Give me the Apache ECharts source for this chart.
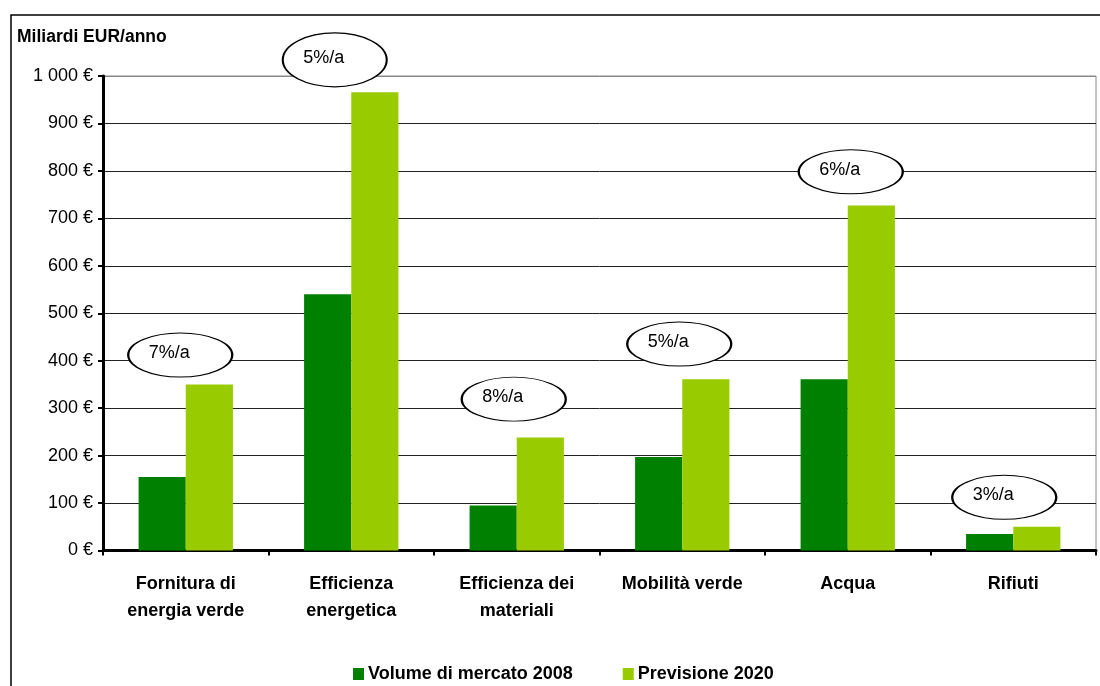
<!DOCTYPE html>
<html>
<head>
<meta charset="utf-8">
<script src="https://cdn.jsdelivr.net/npm/echarts@6/dist/echarts.min.js"></script>
<style>
html,body{margin:0;padding:0;background:#fff;}
#c{width:1100px;height:686px;}
</style>
</head>
<body>
<div id="c"></div>
<script>
const categories = ["Fornitura di\nenergia verde", "Efficienza\nenergetica", "Efficienza dei\nmateriali", "Mobilità verde", "Acqua", "Rifiuti"];
const volume2008 = [155, 540, 95, 197, 361, 35];
const previsione2020 = [350, 966, 238, 361, 727, 50];
const growthLabels = ["7%/a", "5%/a", "8%/a", "5%/a", "6%/a", "3%/a"];
const growthLabelY = [412, 1034, 319, 435, 798, 112];
const yTicks = [0, 100, 200, 300, 400, 500, 600, 700, 800, 900, 1000];

const FONT = "'Liberation Sans', Arial, sans-serif";
const chart = echarts.init(document.getElementById('c'));

const ellipseOffsets = [-5.5, -16.5, -3, -3, 3, -9];
const ellipseSizes = [[104, 44], [104, 54], [104, 44], [104, 44], [104, 44], [104, 44]];

const option = {
  animation: false,
  backgroundColor: '#fff',
  textStyle: { fontFamily: FONT },
  title: {
    text: 'Miliardi EUR/anno',
    left: 17, top: 28, padding: 0,
    textStyle: { fontSize: 17.5, fontWeight: 'bold', color: '#000', fontFamily: FONT }
  },
  graphic: [{
    type: 'rect', z: 100,
    shape: { x: 11, y: 15, width: 1200, height: 800 },
    style: { fill: 'none', stroke: '#000', lineWidth: 1.5 }
  }],
  legend: {
    left: 353, top: 665, padding: 0,
    itemWidth: 11, itemHeight: 12, itemGap: 50,
    icon: 'rect',
    data: ['Volume di mercato 2008', 'Previsione 2020'],
    textStyle: { fontSize: 18, fontWeight: 'bold', color: '#000', fontFamily: FONT, padding: [0, 0, 0, -1] }
  },
  grid: {
    left: 103, right: 4, top: 76, bottom: 135.5,
    show: true, borderColor: '#888', borderWidth: 1, backgroundColor: 'transparent'
  },
  xAxis: {
    type: 'category',
    data: categories,
    axisLine: { lineStyle: { color: '#000', width: 3 } },
    axisTick: { show: true, length: 5, lineStyle: { color: '#000', width: 2 } },
    axisLabel: {
      margin: 20, fontSize: 18, fontWeight: 'bold', color: '#000', lineHeight: 27,
      interval: 0, fontFamily: FONT
    }
  },
  yAxis: {
    type: 'value',
    min: 0, max: 1000, interval: 100,
    axisLine: { show: true, lineStyle: { color: '#000', width: 3 } },
    axisTick: { show: true, length: 5, lineStyle: { color: '#000', width: 2 } },
    axisLabel: {
      margin: 10, fontSize: 18, color: '#000', fontFamily: FONT,
      formatter: v => (v >= 1000 ? Math.floor(v / 1000) + ' ' + String(v % 1000).padStart(3, '0') : String(v)) + ' €'
    },
    splitLine: {
      show: true,
      lineStyle: { color: yTicks.map(t => t === 1000 ? '#888' : '#222'), width: 1 }
    }
  },
  series: [
    {
      name: 'Volume di mercato 2008',
      type: 'bar',
      data: volume2008,
      barGap: '0%',
      barCategoryGap: '43%',
      itemStyle: { color: '#008000' },
      z: 2
    },
    {
      name: 'Previsione 2020',
      type: 'bar',
      data: previsione2020,
      barGap: '0%',
      barCategoryGap: '43%',
      itemStyle: { color: '#99CC00' },
      z: 2
    },
    {
      name: 'growth',
      type: 'scatter',
      clip: false,
      z: 5,
      symbol: 'circle',
      data: growthLabelY.map((v, i) => ({
        value: [i, v],
        symbolSize: ellipseSizes[i],
        symbolOffset: [ellipseOffsets[i], 0]
      })),
      itemStyle: { color: '#fff', borderColor: '#000', borderWidth: 1.5, opacity: 1 },
      label: {
        show: true, position: 'inside', offset: [-11, -2],
        formatter: p => growthLabels[p.dataIndex],
        fontSize: 18, color: '#000', fontFamily: FONT
      },
      emphasis: { disabled: true },
      tooltip: { show: false }
    }
  ]
};
chart.setOption(option);
</script>
</body>
</html>
